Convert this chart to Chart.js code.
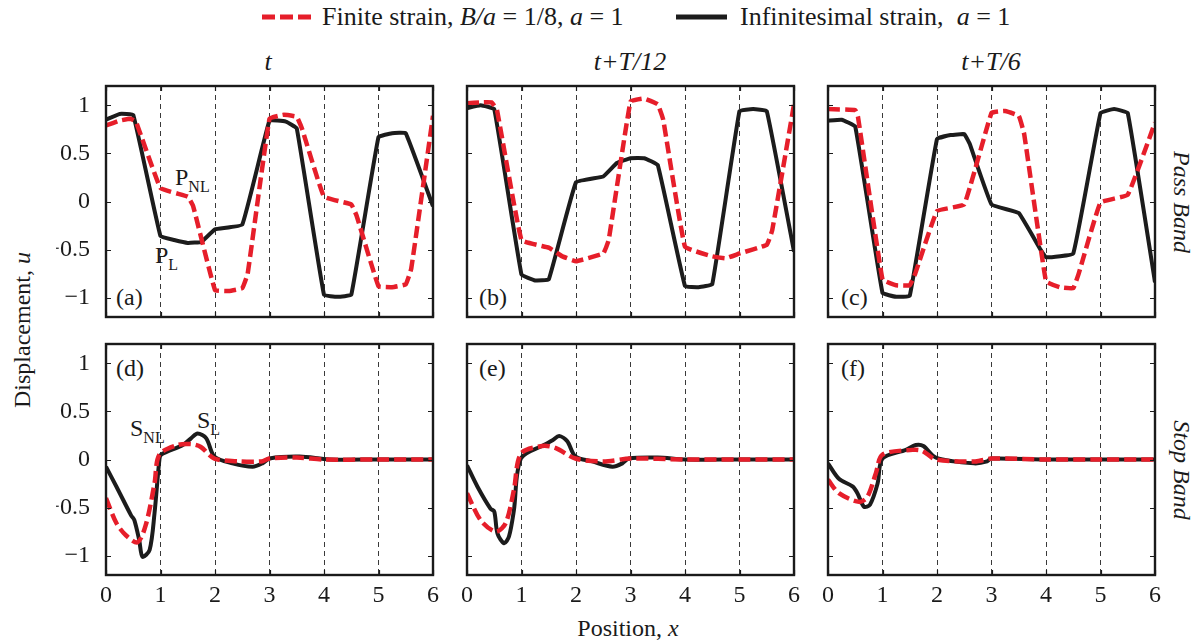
<!DOCTYPE html>
<html>
<head>
<meta charset="utf-8">
<script src="https://cdn.jsdelivr.net/npm/chart.js@4.4.1/dist/chart.umd.min.js"></script>
<style>
  html, body { margin: 0; padding: 0; background: #fff; }
  #fig { position: relative; width: 1200px; height: 644px; overflow: hidden;
         font-family: 'Liberation Serif', 'Times New Roman', serif; color: #1a1a1a; }
  #fig canvas { position: absolute; }
  .txt { position: absolute; white-space: nowrap; font-size: 24px; line-height: 1; }
  .c { transform: translate(-50%, -50%); }
  .l { transform: translate(0, -50%); }
  .it { font-style: italic; }
  .sub { font-size: 16px; position: relative; top: 7px; }
</style>
</head>
<body>
<div id="fig">
  <!-- legend -->
  <svg style="position:absolute;left:0;top:0" width="1200" height="40">
    <line x1="262" y1="17" x2="312" y2="17" stroke="#e61e2a" stroke-width="5" stroke-dasharray="13 5"/>
    <line x1="676" y1="17" x2="727" y2="17" stroke="#1c1c1c" stroke-width="5"/>
  </svg>
  <div class="txt l" style="left:322px;top:17px;font-size:26px">Finite strain, <i>B/a</i> = 1/8, <i>a</i> = 1</div>
  <div class="txt l" style="left:740px;top:17px;font-size:26px">Infinitesimal strain,&nbsp; <i>a</i> = 1</div>

  <!-- column titles -->
  <div class="txt c it" style="left:268px;top:62px;font-size:26px">t</div>
  <div class="txt c it" style="left:630px;top:62px;font-size:26px">t+T/12</div>
  <div class="txt c it" style="left:991px;top:62px;font-size:26px">t+T/6</div>

  <!-- axis titles -->
  <div class="txt c" style="left:22px;top:330px;transform:translate(-50%,-50%) rotate(-90deg)">Displacement, <i>u</i></div>
  <div class="txt c" style="left:628px;top:628px">Position, <i>x</i></div>
  <div class="txt c it" style="left:1182px;top:202px;transform:translate(-50%,-50%) rotate(90deg)">Pass Band</div>
  <div class="txt c it" style="left:1182px;top:470px;transform:translate(-50%,-50%) rotate(90deg)">Stop Band</div>

  <!-- panel letters -->
  <div class="txt l" style="left:116px;top:297px">(a)</div>
  <div class="txt l" style="left:479px;top:297px">(b)</div>
  <div class="txt l" style="left:841px;top:297px">(c)</div>
  <div class="txt l" style="left:116px;top:368px">(d)</div>
  <div class="txt l" style="left:479px;top:368px">(e)</div>
  <div class="txt l" style="left:841px;top:368px">(f)</div>

  <!-- curve labels -->
  <div class="txt l" style="left:175px;top:177px">P<span class="sub">NL</span></div>
  <div class="txt l" style="left:155px;top:255px">P<span class="sub">L</span></div>
  <div class="txt l" style="left:130px;top:428px">S<span class="sub">NL</span></div>
  <div class="txt l" style="left:197px;top:420px">S<span class="sub">L</span></div>
</div>

<script>
const xTicks = [0, 1, 2, 3, 4, 5, 6];
const yTicks = [-1, -0.5, 0, 0.5, 1];

// (a) pass band, t
const aNlX  = [0, 0.25, 0.45, 0.55, 1.0, 1.5, 1.6, 2.0, 2.25, 2.5, 2.6, 3.0, 3.25, 3.5, 3.6, 4.0, 4.5, 4.6, 5.0, 5.25, 5.5, 5.6, 6.0];
const aNlY  = [0.79, 0.84, 0.86, 0.83, 0.14, 0.05, -0.05, -0.92, -0.93, -0.90, -0.75, 0.86, 0.90, 0.88, 0.75, 0.05, -0.03, -0.15, -0.88, -0.89, -0.86, -0.70, 0.89];
const aLinX = [0, 0.25, 0.5, 1.0, 1.25, 1.5, 1.75, 2.0, 2.5, 3.0, 3.3, 3.5, 4.0, 4.25, 4.5, 5.0, 5.25, 5.5, 6.0];
const aLinY = [0.85, 0.91, 0.90, -0.36, -0.40, -0.43, -0.42, -0.29, -0.24, 0.84, 0.83, 0.76, -0.97, -0.99, -0.97, 0.67, 0.71, 0.71, -0.05];

// (b) pass band, t+T/12
const bNlX  = [0, 0.25, 0.45, 0.55, 1.0, 1.5, 1.75, 2.0, 2.5, 2.6, 3.0, 3.25, 3.5, 3.6, 4.0, 4.5, 4.75, 5.0, 5.5, 5.6, 6.0];
const bNlY  = [1.02, 1.03, 1.03, 0.95, -0.40, -0.48, -0.57, -0.62, -0.54, -0.40, 1.04, 1.07, 1.01, 0.85, -0.47, -0.57, -0.59, -0.54, -0.45, -0.30, 1.01];
const bLinX = [0, 0.25, 0.5, 1.0, 1.25, 1.5, 2.0, 2.5, 2.75, 3.0, 3.25, 3.5, 4.0, 4.25, 4.5, 5.0, 5.25, 5.5, 6.0];
const bLinY = [0.97, 1.0, 0.96, -0.76, -0.82, -0.81, 0.20, 0.26, 0.40, 0.45, 0.45, 0.38, -0.88, -0.89, -0.86, 0.94, 0.96, 0.94, -0.52];

// (c) pass band, t+T/6
const cNlX  = [0, 0.5, 0.55, 1.0, 1.25, 1.5, 1.6, 2.0, 2.5, 3.0, 3.25, 3.5, 3.6, 4.0, 4.25, 4.5, 4.6, 5.0, 5.5, 6.0];
const cNlY  = [0.96, 0.95, 0.88, -0.81, -0.87, -0.87, -0.75, -0.10, -0.03, 0.92, 0.94, 0.89, 0.70, -0.83, -0.89, -0.90, -0.75, -0.01, 0.07, 0.82];
const cLinX = [0, 0.25, 0.5, 1.0, 1.25, 1.5, 2.0, 2.25, 2.5, 2.6, 3.0, 3.5, 3.9, 4.0, 4.5, 5.0, 5.25, 5.5, 6.0];
const cLinY = [0.84, 0.85, 0.78, -0.95, -0.99, -0.98, 0.65, 0.69, 0.70, 0.60, -0.03, -0.12, -0.50, -0.58, -0.54, 0.92, 0.96, 0.92, -0.84];

// (d) stop band, t
const dNlX  = [0, 0.19, 0.37, 0.58, 0.73, 0.89, 0.98, 1.31, 1.56, 1.74, 1.99, 2.45, 2.85, 3.0, 3.5, 4.0, 5.0, 6.0];
const dNlY  = [-0.40, -0.66, -0.79, -0.86, -0.68, -0.25, 0.05, 0.15, 0.16, 0.13, 0.01, -0.02, -0.02, 0.01, 0.02, 0.0, 0.0, 0.0];
const dLinX = [0, 0.19, 0.46, 0.52, 0.61, 0.67, 0.8, 0.89, 0.98, 1.01, 1.41, 1.56, 1.68, 1.84, 1.99, 2.32, 2.69, 2.87, 3.0, 3.55, 4.1, 5.0, 6.0];
const dLinY = [-0.075, -0.28, -0.58, -0.63, -0.84, -1.01, -0.94, -0.56, 0.0, 0.05, 0.15, 0.22, 0.27, 0.22, 0.03, -0.04, -0.075, -0.04, 0.01, 0.03, 0.0, 0.0, 0.0];

// (e) stop band, t+T/12
const eNlX  = [0, 0.25, 0.53, 0.71, 0.86, 0.99, 1.38, 1.62, 1.99, 2.5, 3.0, 4.0, 5.0, 6.0];
const eNlY  = [-0.35, -0.63, -0.75, -0.66, -0.32, 0.06, 0.14, 0.12, 0.01, -0.02, 0.01, 0.0, 0.0, 0.0];
const eLinX = [0, 0.19, 0.43, 0.5, 0.56, 0.68, 0.77, 0.86, 0.99, 1.41, 1.57, 1.69, 1.84, 1.99, 2.3, 2.67, 2.85, 2.97, 3.5, 4.0, 5.0, 6.0];
const eLinY = [-0.06, -0.28, -0.51, -0.54, -0.77, -0.87, -0.80, -0.53, 0.01, 0.15, 0.20, 0.245, 0.19, 0.03, -0.02, -0.075, -0.04, 0.01, 0.02, 0.0, 0.0, 0.0];

// (f) stop band, t+T/6
const fNlX  = [0, 0.2, 0.57, 0.72, 0.88, 1.0, 1.55, 1.73, 1.98, 2.7, 3.0, 4.0, 5.0, 6.0];
const fNlY  = [-0.21, -0.35, -0.44, -0.39, -0.14, 0.05, 0.10, 0.09, 0.0, -0.02, 0.01, 0.0, 0.0, 0.0];
const fLinX = [0, 0.2, 0.45, 0.54, 0.66, 0.77, 0.91, 1.0, 1.43, 1.61, 1.75, 1.98, 2.68, 2.92, 2.99, 4.0, 5.0, 6.0];
const fLinY = [-0.04, -0.20, -0.28, -0.35, -0.49, -0.47, -0.25, 0.01, 0.10, 0.15, 0.14, 0.02, -0.04, -0.02, 0.01, 0.0, 0.0, 0.0];

const RED = '#e61e2a', BLACK = '#1c1c1c', INK = '#1a1a1a';
const FONT = "'Liberation Serif', 'Times New Roman', serif";

// plot-box geometry, px
const COL_LEFT = [106, 467, 828];
const ROW_TOP = [86, 344];
const PW = 327, PH = 231;
const ML = 50, MR = 6, MT = 6, MB = 36;
const TICK = 5;

const panels = [
  { col: 0, row: 0, nlX: aNlX, nlY: aNlY, linX: aLinX, linY: aLinY },
  { col: 1, row: 0, nlX: bNlX, nlY: bNlY, linX: bLinX, linY: bLinY },
  { col: 2, row: 0, nlX: cNlX, nlY: cNlY, linX: cLinX, linY: cLinY },
  { col: 0, row: 1, nlX: dNlX, nlY: dNlY, linX: dLinX, linY: dLinY },
  { col: 1, row: 1, nlX: eNlX, nlY: eNlY, linX: eLinX, linY: eLinY },
  { col: 2, row: 1, nlX: fNlX, nlY: fNlY, linX: fLinX, linY: fLinY },
];

const pts = (xs, ys) => xs.map((x, i) => ({ x, y: ys[i] }));

// box with inward tick marks on all four sides
const frame = {
  id: 'frame',
  afterDatasetsDraw(chart) {
    const { ctx, chartArea: a, scales: { x, y } } = chart;
    ctx.save();
    ctx.strokeStyle = INK;
    ctx.lineWidth = 1.2;
    ctx.beginPath();
    xTicks.forEach(v => {
      const px = Math.round(x.getPixelForValue(v)) + 0.5;
      ctx.moveTo(px, a.bottom); ctx.lineTo(px, a.bottom - TICK);
      ctx.moveTo(px, a.top); ctx.lineTo(px, a.top + TICK);
    });
    yTicks.forEach(v => {
      const py = Math.round(y.getPixelForValue(v)) + 0.5;
      ctx.moveTo(a.left, py); ctx.lineTo(a.left + TICK, py);
      ctx.moveTo(a.right, py); ctx.lineTo(a.right - TICK, py);
    });
    ctx.stroke();
    ctx.lineWidth = 2.4;
    ctx.strokeRect(a.left, a.top, a.right - a.left, a.bottom - a.top);
    ctx.restore();
  }
};

const fig = document.getElementById('fig');

panels.forEach(p => {
  const cv = document.createElement('canvas');
  cv.width = ML + PW + MR;
  cv.height = MT + PH + MB;
  cv.style.left = (COL_LEFT[p.col] - ML) + 'px';
  cv.style.top = (ROW_TOP[p.row] - MT) + 'px';
  fig.appendChild(cv);

  const smooth = p.row === 1 ? 0.3 : 0.08;

  new Chart(cv, {
    type: 'line',
    data: {
      datasets: [
        { data: pts(p.nlX, p.nlY), borderColor: RED, borderWidth: 4.5, borderDash: [12, 5],
          pointRadius: 0, tension: smooth, fill: false },
        { data: pts(p.linX, p.linY), borderColor: BLACK, borderWidth: 4,
          pointRadius: 0, tension: smooth, fill: false, borderJoinStyle: 'round' }
      ]
    },
    options: {
      responsive: false,
      animation: false,
      devicePixelRatio: 1,
      layout: { padding: { left: 0, top: MT, right: MR, bottom: 0 } },
      plugins: { legend: { display: false }, tooltip: { enabled: false } },
      scales: {
        x: {
          type: 'linear', min: 0, max: 6,
          afterBuildTicks: s => { s.ticks = xTicks.map(v => ({ value: v })); },
          afterFit: s => { s.height = MB; s.paddingLeft = 0; s.paddingRight = 0; },
          ticks: { display: p.row === 1, color: INK, padding: 6, maxRotation: 0,
                   font: { family: FONT, size: 24 } },
          grid: { drawTicks: false, lineWidth: 1,
                  color: c => (c.tick && c.tick.value > 0 && c.tick.value < 6) ? '#3a3a3a' : 'rgba(0,0,0,0)' },
          border: { display: false, dash: [5, 4] }
        },
        y: {
          type: 'linear', min: -1.2, max: 1.2,
          afterBuildTicks: s => { s.ticks = yTicks.map(v => ({ value: v })); },
          afterFit: s => { s.width = ML; s.paddingTop = 0; s.paddingBottom = 0; },
          ticks: { display: p.col === 0, color: INK, padding: 8,
                   font: { family: FONT, size: 24 },
                   callback: v => String(v).replace('-', '\u2212') },
          grid: { display: false },
          border: { display: false }
        }
      }
    },
    plugins: [frame]
  });
});
</script>
</body>
</html>
